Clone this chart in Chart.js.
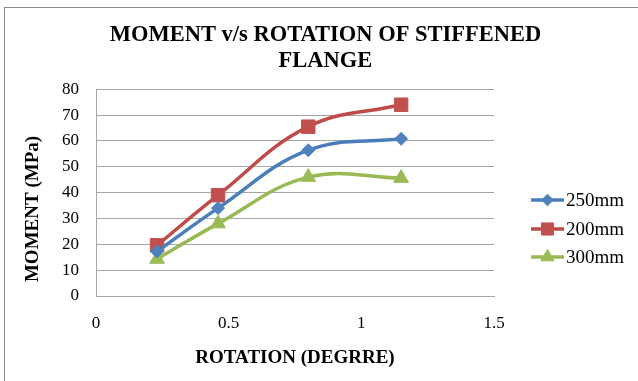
<!DOCTYPE html>
<html>
<head>
<meta charset="utf-8">
<script src="https://cdn.jsdelivr.net/npm/chart.js@4.4.1/dist/chart.umd.min.js"></script>
<style>
  html, body { margin: 0; padding: 0; background: #fff; }
  #wrap { position: relative; width: 638px; height: 381px; overflow: hidden; background: #fff; }
  #c { position: absolute; left: 0; top: 0; }
  #frame { position: absolute; left: 4px; top: 7px; width: 700px; height: 420px;
           border: 1px solid #8c8c8c; box-sizing: border-box; pointer-events: none; }
</style>
</head>
<body>
<div id="wrap">
  <canvas id="c" width="638" height="381"></canvas>
  <div id="frame"></div>
</div>
<script>
// Rotation (degree) at which each moment was recorded
const rotation = [0.23, 0.46, 0.80, 1.15];

// Moment (MPa) for each flange stiffener spacing
const moment250 = [17.2, 34.0, 56.4, 60.8];
const moment200 = [19.6, 39.0, 65.5, 74.0];
const moment300 = [14.3, 28.0, 46.0, 45.6];

const seriesNames = ['250mm', '200mm', '300mm'];
const xTickValues = [0, 0.5, 1, 1.5];
const yTickValues = [0, 10, 20, 30, 40, 50, 60, 70, 80];

const SERIF = '"Liberation Serif", "Times New Roman", Times, serif';

const toPoints = ys => rotation.map((x, i) => ({ x: x, y: ys[i] }));

function series(label, ys, line, fill, style, radius) {
  return {
    label: label,
    data: toPoints(ys),
    showLine: true,
    borderColor: line,
    backgroundColor: fill,
    borderWidth: 3.5,
    tension: 0.4,
    pointStyle: style,
    pointRadius: radius,
    pointBackgroundColor: fill,
    pointBorderColor: fill,
    pointBorderWidth: 1
  };
}

// Legend on the right: short line with the series marker, then the name
const sideLegend = {
  id: 'sideLegend',
  afterDraw(chart) {
    const ctx = chart.ctx;
    const rows = [200, 229, 257];
    ctx.save();
    chart.data.datasets.forEach((ds, i) => {
      const y = rows[i];
      ctx.strokeStyle = ds.borderColor;
      ctx.lineWidth = 3.5;
      ctx.beginPath();
      ctx.moveTo(531, y);
      ctx.lineTo(564, y);
      ctx.stroke();
      ctx.fillStyle = ds.pointBackgroundColor;
      ctx.strokeStyle = ds.pointBorderColor;
      ctx.lineWidth = 1;
      Chart.helpers.drawPoint(ctx, {
        pointStyle: ds.pointStyle,
        radius: ds.pointRadius * 0.9,
        rotation: 0,
        borderWidth: 1
      }, 547.5, y);
      ctx.fillStyle = '#000';
      ctx.font = '19px ' + SERIF;
      ctx.textAlign = 'left';
      ctx.textBaseline = 'middle';
      ctx.fillText(ds.label, 566, y + 1);
    });
    ctx.restore();
  }
};

// Vertical axis title
const yAxisTitle = {
  id: 'yAxisTitle',
  afterDraw(chart) {
    const ctx = chart.ctx;
    ctx.save();
    ctx.translate(33, 209);
    ctx.rotate(-Math.PI / 2);
    ctx.fillStyle = '#000';
    ctx.font = 'bold 19px ' + SERIF;
    ctx.textAlign = 'center';
    ctx.textBaseline = 'middle';
    ctx.fillText('MOMENT (MPa)', 0, 0);
    ctx.restore();
  }
};

new Chart(document.getElementById('c'), {
  type: 'scatter',
  data: {
    datasets: [
      series(seriesNames[0], moment250, '#4A7EBB', '#4F81BD', 'rectRot', 6.5),
      series(seriesNames[1], moment200, '#BE4B48', '#C0504D', 'rect', 9.5),
      series(seriesNames[2], moment300, '#98B954', '#9BBB59', 'triangle', 8.5)
    ]
  },
  options: {
    responsive: false,
    animation: false,
    devicePixelRatio: 1,
    layout: { padding: { left: 13, right: 0, top: 0, bottom: 12 } },
    plugins: {
      legend: { display: false },
      tooltip: { enabled: false },
      title: {
        display: true,
        text: ['MOMENT v/s ROTATION OF STIFFENED', 'FLANGE'],
        color: '#000',
        font: { family: SERIF, size: 22.5, weight: 'bold', lineHeight: 1.16 },
        padding: { top: 22, bottom: 15 }
      }
    },
    scales: {
      x: {
        type: 'linear',
        min: 0,
        max: 1.5,
        afterBuildTicks: s => { s.ticks = xTickValues.map(v => ({ value: v })); },
        afterFit: s => { s.height = 73; },
        ticks: { color: '#000', padding: 17, font: { family: SERIF, size: 17 }, maxRotation: 0,
                 callback: v => String(v) },
        grid: { display: false, drawTicks: false },
        border: { display: true, color: '#a6a6a6', width: 1 },
        title: {
          display: true,
          text: 'ROTATION (DEGRRE)',
          color: '#000',
          font: { family: SERIF, size: 19, weight: 'bold' },
          padding: { top: 13, bottom: 0 }
        }
      },
      y: {
        type: 'linear',
        min: 0,
        max: 80,
        afterBuildTicks: s => { s.ticks = yTickValues.map(v => ({ value: v })); },
        afterFit: s => { s.width = 83; },
        ticks: { color: '#000', padding: 17, font: { family: SERIF, size: 17 } },
        grid: { color: '#a6a6a6', lineWidth: 1, drawTicks: false },
        border: { display: true, color: '#a6a6a6', width: 1 }
      },
      legendSpace: {
        type: 'linear',
        position: 'right',
        afterFit: s => { s.width = 144; },
        ticks: { display: false },
        grid: { display: false, drawTicks: false },
        border: { display: false }
      }
    }
  },
  plugins: [sideLegend, yAxisTitle]
});
</script>
</body>
</html>
